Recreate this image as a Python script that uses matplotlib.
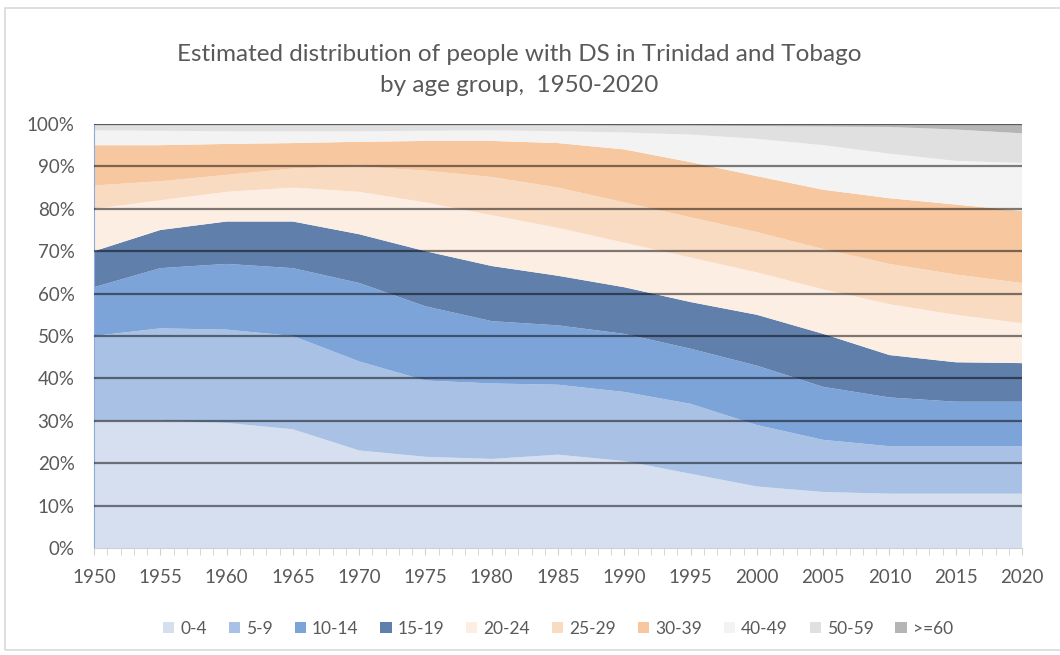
import numpy as np
import matplotlib.pyplot as plt
from matplotlib.patches import Rectangle
from matplotlib.ticker import FuncFormatter, MultipleLocator

# Estimated share of each age group (percent), every 5 years
years = [1950, 1955, 1960, 1965, 1970, 1975, 1980, 1985, 1990, 1995, 2000, 2005, 2010, 2015, 2020]
age_groups = ['0-4', '5-9', '10-14', '15-19', '20-24', '25-29', '30-39', '40-49', '50-59', '>=60']

age_0_4 = [30, 30, 29.5, 28, 23, 21.5, 21, 22, 20.5, 17.5, 14.5, 13.2, 12.8, 12.8, 12.8]
age_5_9 = [20, 21.8, 22, 22, 21, 18, 17.8, 16.5, 16.3, 16.5, 14.5, 12.3, 11.2, 11.2, 11.2]
age_10_14 = [11.5, 14.2, 15.5, 16, 18.5, 17.5, 14.7, 14, 13.7, 13, 14, 12.5, 11.5, 10.5, 10.5]
age_15_19 = [8.5, 9, 10, 11, 11.5, 13, 13, 11.7, 11, 11, 12, 12.5, 10, 9.3, 9.1]
age_20_24 = [10, 7, 7, 8, 10, 11.5, 12, 11.3, 10.5, 10.5, 10, 10.5, 12, 11.2, 9.4]
age_25_29 = [5.5, 4.5, 4, 4.5, 6, 7.5, 9, 9.5, 9.5, 9.5, 9.5, 9.5, 9.5, 9.5, 9.5]
age_30_39 = [9.5, 8.5, 7.3, 6, 5.8, 7, 8.5, 10.5, 12.5, 13, 13.2, 14, 15.5, 16.5, 17]
age_40_49 = [3.5, 3.4, 3, 2.8, 2.5, 2.4, 2.5, 2.8, 4, 6.5, 8.8, 10.5, 10.5, 10.3, 11.3]
age_50_59 = [1.2, 1.3, 1.4, 1.4, 1.4, 1.3, 1.2, 1.4, 1.6, 2.1, 3, 4.4, 6.3, 7.4, 7]
age_60_plus = [0.3, 0.3, 0.3, 0.3, 0.3, 0.3, 0.3, 0.3, 0.4, 0.4, 0.5, 0.6, 0.7, 1.3, 2.2]

colors = ['#D5DFF0', '#A8C1E4', '#7DA4D9', '#6080AB', '#FCEEE3',
          '#F9DBC2', '#F7C7A0', '#F3F3F3', '#E0E0E0', '#B5B5B5']
text_col = '#595959'

series = np.array([age_0_4, age_5_9, age_10_14, age_15_19, age_20_24,
                   age_25_29, age_30_39, age_40_49, age_50_59, age_60_plus], dtype=float)
# 100% stacked
shares = series / series.sum(axis=0) * 100

fig = plt.figure(figsize=(10.6, 6.55), dpi=100)
ax = fig.add_axes([0.0887, 0.1634, 0.8755, 0.6473])

ax.stackplot(years, shares, colors=colors, labels=age_groups, linewidth=0)

ax.set_xlim(1950, 2020)
ax.set_ylim(0, 100)

# gridlines drawn on top of the areas, dark and see-through
for v in range(10, 101, 10):
    ax.axhline(v, color='black', alpha=0.5, linewidth=1.6, zorder=5)

ax.xaxis.set_major_locator(MultipleLocator(5))
ax.xaxis.set_minor_locator(MultipleLocator(1))
ax.yaxis.set_major_locator(MultipleLocator(10))
ax.yaxis.set_major_formatter(FuncFormatter(lambda v, p: f'{v:.0f}%'))

for s in ['top', 'right']:
    ax.spines[s].set_visible(False)
ax.spines['left'].set_color('#8EA9DB')
ax.spines['bottom'].set_color('#D0D0D0')
ax.tick_params(axis='y', length=0, labelsize=13.5, labelcolor=text_col, pad=14)
ax.tick_params(axis='x', which='major', length=5, color='#D0D0D0', labelsize=13.5,
               labelcolor=text_col, pad=10)
ax.tick_params(axis='x', which='minor', length=5, color='#D0D0D0')
for lab in ax.get_xticklabels() + ax.get_yticklabels():
    lab.set_family('Lato')

fig.text(0.49, 0.893, 'Estimated distribution of people with DS in Trinidad and Tobago\nby age group,  1950-2020',
         ha='center', va='center', fontsize=17.5, color=text_col, family='Lato', linespacing=1.55)

leg = ax.legend(loc='center', bbox_to_anchor=(0.5, -0.19), ncol=10, frameon=False,
                handlelength=0.65, handleheight=0.65, handletextpad=0.35, columnspacing=1.25,
                prop={'family': 'Lato', 'size': 12.5})
for t in leg.get_texts():
    t.set_color(text_col)

# light outer border of the chart area
fig.patches.append(Rectangle((0.005, 0.007), 1.2, 0.981, transform=fig.transFigure,
                             fill=False, edgecolor='#D9D9D9', linewidth=1.2))

fig.savefig('out.png', dpi=100)
